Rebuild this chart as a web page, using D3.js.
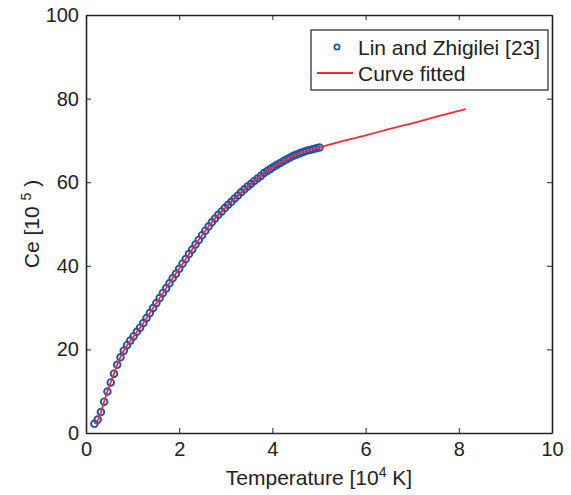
<!DOCTYPE html>
<html><head><meta charset="utf-8">
<script src="https://cdn.jsdelivr.net/npm/d3@7"></script>
<style>body{margin:0;background:#fff}svg{display:block}text{font-family:Arial,"Liberation Sans",sans-serif}</style>
</head><body>
<script>
// Data: Lin and Zhigilei [23] (T in 10^4 K, Ce in 10^5)
const dataT = [0.18,0.25,0.32,0.39,0.46,0.53,0.60,0.67,0.74,0.81,0.88,0.95,1.02,1.09,1.16,1.23,1.30,1.37,1.44,1.51,1.58,1.65,1.72,1.79,1.86,1.93,2.00,2.07,2.14,2.21,2.28,2.35,2.42,2.49,2.56,2.63,2.70,2.77,2.84,2.91,2.98,3.05,3.12,3.19,3.26,3.33,3.40,3.47,3.54,3.61,3.68,3.75,3.82,3.89,3.96,4.03,4.10,4.17,4.24,4.31,4.38,4.45,4.52,4.59,4.66,4.73,4.80,4.87,4.94,5.01];
const dataCe = [2.2,3.2,5.0,7.5,9.9,12.1,14.2,16.3,18.1,19.7,21.0,22.1,23.1,24.2,25.2,26.3,27.5,28.7,29.9,31.1,32.3,33.5,34.6,35.8,37.0,38.1,39.3,40.5,41.6,42.8,43.9,45.1,46.2,47.3,48.4,49.4,50.4,51.3,52.2,53.0,53.8,54.6,55.3,56.1,56.8,57.6,58.3,59.0,59.6,60.3,60.9,61.5,62.2,62.7,63.2,63.7,64.2,64.6,65.1,65.5,65.9,66.3,66.6,66.9,67.2,67.5,67.7,67.9,68.1,68.3];
// Fitted curve
const fitT = [0.18,0.28,0.35,0.42,0.5,0.6,0.7,0.8,0.9,1.0,1.1,1.2,1.4,1.6,1.8,2.0,2.2,2.4,2.6,2.8,3.0,3.2,3.4,3.6,3.8,4.0,4.2,4.4,4.6,4.8,5.0,5.5,6.0,6.5,7.0,7.5,8.15];
const fitCe = [2.2,3.6,6.0,8.6,11.2,14.2,17.2,19.5,21.3,22.8,24.3,25.8,29.2,32.6,36.0,39.3,42.6,45.9,49.0,51.7,54.0,56.2,58.3,60.2,62.0,63.5,64.8,66.0,67.0,67.7,68.3,69.8,71.2,72.7,74.1,75.6,77.5];
const xTicks = [0,2,4,6,8,10];
const yTicks = [0,20,40,60,80,100];
const legendLabels = ["Lin and Zhigilei [23]","Curve fitted"];

const W=571,H=495;
const m={l:86,r:552,t:15,b:433};
const svg=d3.select("body").append("svg").attr("width",W).attr("height",H);
const x=d3.scaleLinear().domain([0,10]).range([m.l,m.r]);
const y=d3.scaleLinear().domain([0,100]).range([m.b,m.t]);
const blue="#1f52ab", red="#ee2e34", ink="#222";

// axes (ticks inward, mirrored)
const fs=20;
const axB=svg.append("g").attr("transform",`translate(0,${m.b})`)
  .call(d3.axisBottom(x).tickValues(xTicks).tickSizeInner(-5).tickSizeOuter(0).tickPadding(9).tickFormat(d3.format("d")));
const axT=svg.append("g").attr("transform",`translate(0,${m.t})`)
  .call(d3.axisTop(x).tickValues(xTicks).tickSizeInner(-5).tickSizeOuter(0).tickFormat(""));
const axL=svg.append("g").attr("transform",`translate(${m.l},0)`)
  .call(d3.axisLeft(y).tickValues(yTicks).tickSizeInner(-5).tickSizeOuter(0).tickPadding(9).tickFormat(d3.format("d")));
const axR=svg.append("g").attr("transform",`translate(${m.r},0)`)
  .call(d3.axisRight(y).tickValues(yTicks).tickSizeInner(-5).tickSizeOuter(0).tickFormat(""));
[axB,axT,axL,axR].forEach(g=>{
  g.select(".domain").attr("stroke",ink).attr("stroke-width",1.6);
  g.selectAll(".tick line").attr("stroke",ink).attr("stroke-width",1);
  g.selectAll("text").attr("font-size",fs).attr("fill",ink).attr("font-family","Arial,'Liberation Sans',sans-serif");
});
axB.selectAll(".tick text").attr("dy","0.71em");
axL.selectAll(".tick text").attr("dx","2");

// data markers
svg.append("g").selectAll("circle").data(dataT.map((t,i)=>[t,dataCe[i]])).join("circle")
  .attr("cx",d=>x(d[0])).attr("cy",d=>y(d[1])).attr("r",3.3)
  .attr("fill","none").attr("stroke",blue).attr("stroke-width",1.9);

// fitted curve
svg.append("path").datum(fitT.map((t,i)=>[t,fitCe[i]]))
  .attr("d",d3.line().x(d=>x(d[0])).y(d=>y(d[1])).curve(d3.curveMonotoneX))
  .attr("fill","none").attr("stroke",red).attr("stroke-width",1.8);

// axis titles
const xt=svg.append("text").attr("x",(m.l+m.r)/2).attr("y",485).attr("text-anchor","middle").attr("font-size",21).attr("fill",ink);
xt.append("tspan").text("Temperature [10");
xt.append("tspan").attr("font-size",14).attr("dy",-8).text("4");
xt.append("tspan").attr("dy",8).text(" K]");
const yt=svg.append("text").attr("transform",`translate(39,${(m.t+m.b)/2}) rotate(-90)`).attr("text-anchor","middle").attr("font-size",21).attr("fill",ink);
yt.append("tspan").text("Ce [10 ");
yt.append("tspan").attr("font-size",14).attr("dy",-8).text("5");
yt.append("tspan").attr("dy",8).text(" )");

// legend
const lg=svg.append("g");
lg.append("rect").attr("x",311).attr("y",30).attr("width",237).attr("height",60)
  .attr("fill","#fff").attr("stroke",ink).attr("stroke-width",1.2);
lg.append("circle").attr("cx",337).attr("cy",47).attr("r",2.6).attr("fill","none").attr("stroke",blue).attr("stroke-width",1.8);
lg.append("line").attr("x1",317).attr("x2",353).attr("y1",73).attr("y2",73).attr("stroke",red).attr("stroke-width",1.8);
lg.append("text").attr("x",358).attr("y",55).attr("font-size",21).attr("fill",ink).text(legendLabels[0]);
lg.append("text").attr("x",358).attr("y",81).attr("font-size",21).attr("fill",ink).text(legendLabels[1]);
</script>
</body></html>
